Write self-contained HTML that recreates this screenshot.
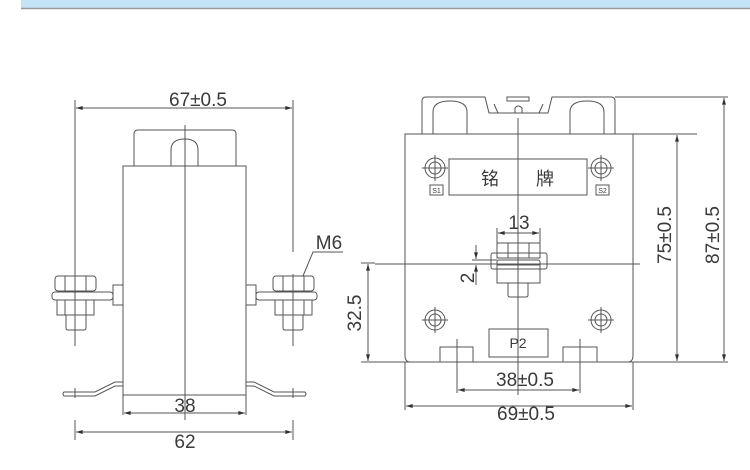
<!DOCTYPE html>
<html><head><meta charset="utf-8"><style>
html,body{margin:0;padding:0;background:#fff;}
svg{display:block;}
text{font-family:"Liberation Sans","Noto Sans CJK SC",sans-serif;fill:#3a3a3a;}
</style></head><body>
<svg width="750" height="470" viewBox="0 0 750 470" xmlns="http://www.w3.org/2000/svg">
<defs>
<marker id="a" viewBox="0 0 10 6" refX="10" refY="3" markerWidth="8" markerHeight="4" orient="auto-start-reverse"><path d="M0,0 L10,3 L0,6z" fill="#333"/></marker>
</defs>
<rect x="21" y="0" width="729" height="8" fill="#c5e3f6"/>
<line x1="21" y1="8.5" x2="750" y2="8.5" stroke="#999" stroke-width="1.5"/>
<g fill="none" stroke="#555" stroke-width="1">
<line x1="75" y1="100" x2="75" y2="346"/>
<line x1="293" y1="100" x2="293" y2="252"/>
<line x1="293" y1="274" x2="293" y2="346"/>
<line x1="76" y1="108" x2="292" y2="108" marker-start="url(#a)" marker-end="url(#a)"/>
<path d="M134,166 V134 Q134,130 138,130 H232 Q236,130 236,134 V166"/>
<path d="M171,166 V150 Q171,139 185,139 Q198,139 198,150 V166"/>
<line x1="185" y1="125" x2="185" y2="420"/>
<rect x="123" y="166" width="123" height="229"/>
<path d="M123,382 H115 L95,392 H64 Q62,394 64,396 H95 L115,386 H123"/>
<path d="M246,382 H254 L274,392 H305 Q307,394 305,396 H274 L254,386 H246"/>
<line x1="75" y1="388" x2="75" y2="398"/>
<line x1="293" y1="388" x2="293" y2="398"/>
<line x1="123" y1="395" x2="123" y2="415"/>
<line x1="246" y1="395" x2="246" y2="415"/>
<line x1="124" y1="413" x2="245" y2="413" marker-start="url(#a)" marker-end="url(#a)"/>
<line x1="75" y1="420" x2="75" y2="440"/>
<line x1="293" y1="420" x2="293" y2="440"/>
<line x1="76" y1="432" x2="292" y2="432" marker-start="url(#a)" marker-end="url(#a)"/>
<rect x="55" y="276" width="41" height="15" rx="3"/>
<line x1="65" y1="276" x2="65" y2="291"/><line x1="86" y1="276" x2="86" y2="291"/>
<rect x="52" y="292" width="61" height="8" rx="3"/>
<rect x="57" y="300" width="37" height="15"/>
<line x1="65" y1="300" x2="65" y2="315"/><line x1="86" y1="300" x2="86" y2="315"/>
<path d="M66,315 V328 Q66,330 68,330 H84 Q86,330 86,328 V315"/>
<rect x="113" y="285" width="10" height="20"/>
<rect x="273" y="276" width="41" height="15" rx="3"/>
<line x1="283" y1="276" x2="283" y2="291"/><line x1="304" y1="276" x2="304" y2="291"/>
<rect x="256" y="292" width="61" height="8" rx="3"/>
<rect x="275" y="300" width="37" height="15"/>
<line x1="283" y1="300" x2="283" y2="315"/><line x1="304" y1="300" x2="304" y2="315"/>
<path d="M283,315 V328 Q283,330 285,330 H301 Q303,330 303,328 V315"/>
<rect x="246" y="285" width="10" height="20"/>
<path d="M343,252 H313 L303,276"/>
<line x1="361" y1="263" x2="375" y2="263"/>
<line x1="361" y1="362" x2="375" y2="362"/>
<line x1="368" y1="264" x2="368" y2="361" marker-start="url(#a)" marker-end="url(#a)"/>
<path d="M422,134 V101 Q422,97 426,97 H485 L489,113 H548 L552,97 H611 Q615,97 615,101 V134"/>
<path d="M494,104 L498,113 M543,104 L539,113"/>
<path d="M515,113 V108 Q518,104 522,108 V113"/>
<rect x="507" y="97" width="22" height="4"/>
<path d="M433,134 V112 Q433,101 450,101 Q467,101 467,112 V134"/>
<path d="M570,134 V112 Q570,101 587,101 Q604,101 604,112 V134"/>
<path d="M405,134 H633 V355 Q633,362 628,362 H410 Q405,362 405,355 Z"/>
<line x1="518" y1="118" x2="518" y2="395"/>
<rect x="449" y="159" width="138" height="36"/>
<g>
<circle cx="435" cy="168" r="10"/><circle cx="435" cy="168" r="6"/>
<line x1="422" y1="168" x2="448" y2="168"/><line x1="435" y1="155" x2="435" y2="181"/>
<circle cx="601" cy="168" r="10"/><circle cx="601" cy="168" r="6"/>
<line x1="588" y1="168" x2="614" y2="168"/><line x1="601" y1="155" x2="601" y2="181"/>
<circle cx="435" cy="320" r="10"/><circle cx="435" cy="320" r="6"/>
<line x1="422" y1="320" x2="448" y2="320"/><line x1="435" y1="307" x2="435" y2="333"/>
<circle cx="601" cy="320" r="10"/><circle cx="601" cy="320" r="6"/>
<line x1="588" y1="320" x2="614" y2="320"/><line x1="601" y1="307" x2="601" y2="333"/>
</g>
<rect x="430" y="185" width="13" height="10"/>
<rect x="596" y="185" width="13" height="10"/>
<rect x="497" y="243" width="43" height="15"/>
<line x1="508" y1="243" x2="508" y2="258"/><line x1="529" y1="243" x2="529" y2="258"/>
<rect x="491" y="253" width="56" height="16" rx="2"/>
<rect x="497" y="260" width="43" height="5" rx="2"/>
<rect x="497" y="265" width="43" height="18"/>
<path d="M508,283 V295 Q508,297 510,297 H526 Q528,297 528,295 V283"/>
<line x1="375" y1="264" x2="640" y2="264"/>
<line x1="497" y1="228" x2="497" y2="243"/><line x1="540" y1="228" x2="540" y2="243"/>
<line x1="498" y1="233" x2="539" y2="233" marker-start="url(#a)" marker-end="url(#a)"/>
<line x1="472" y1="260" x2="497" y2="260"/>
<line x1="476" y1="245" x2="476" y2="259" marker-end="url(#a)"/>
<line x1="476" y1="285" x2="476" y2="265" marker-end="url(#a)"/>
<rect x="489" y="329" width="59" height="28"/>
<path d="M440,362 V347 H473 V362"/>
<path d="M563,362 V347 H597 V362"/>
<line x1="457" y1="339" x2="457" y2="393"/>
<line x1="580" y1="339" x2="580" y2="393"/>
<line x1="458" y1="390" x2="579" y2="390" marker-start="url(#a)" marker-end="url(#a)"/>
<line x1="405" y1="362" x2="405" y2="410"/>
<line x1="633" y1="362" x2="633" y2="410"/>
<line x1="406" y1="406" x2="632" y2="406" marker-start="url(#a)" marker-end="url(#a)"/>
<line x1="375" y1="362" x2="728" y2="362"/>
<line x1="633" y1="134" x2="697" y2="134"/>
<line x1="615" y1="97" x2="728" y2="97"/>
<line x1="677" y1="135" x2="677" y2="361" marker-start="url(#a)" marker-end="url(#a)"/>
<line x1="724" y1="98" x2="724" y2="361" marker-start="url(#a)" marker-end="url(#a)"/>
</g>
<g font-size="19" text-anchor="middle">
<text x="198" y="106">67±0.5</text>
<text x="185" y="412">38</text>
<text x="185" y="448">62</text>
<text x="329" y="249">M6</text>
<text transform="translate(361,313) rotate(-90)">32.5</text>
<text x="519" y="229">13</text>
<text transform="translate(474,278) rotate(-90)">2</text>
<text x="525" y="386">38±0.5</text>
<text x="526" y="420">69±0.5</text>
<text transform="translate(671,235) rotate(-90)">75±0.5</text>
<text transform="translate(719,235) rotate(-90)">87±0.5</text>
<text x="518" y="348" font-size="14">P2</text>
<text x="490" y="185" font-size="18">铭</text>
<text x="545" y="185" font-size="18">牌</text>
<text x="436.5" y="193" font-size="7">S1</text>
<text x="602.5" y="193" font-size="7">S2</text>
</g>
</svg>
</body></html>
